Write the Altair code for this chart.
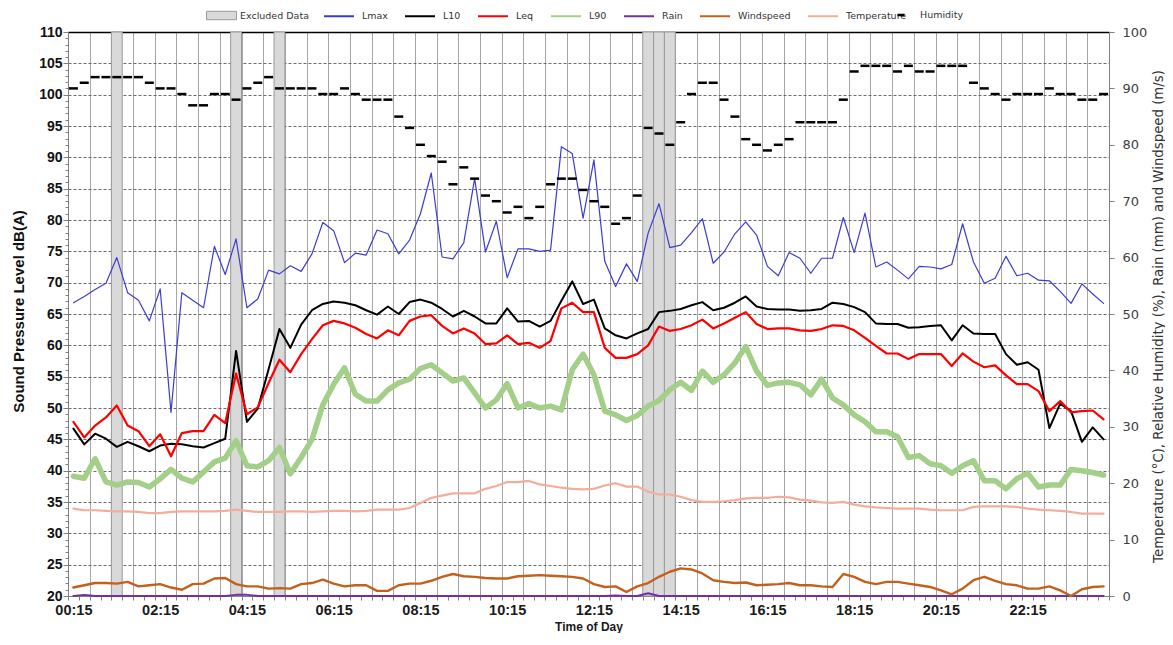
import json
import altair as alt
import pandas as pd

# ---------------- data ----------------
TIMES = [f"{((15 + 15 * i) // 60) % 24:02d}:{(15 + 15 * i) % 60:02d}" for i in range(96)]
TICK_LABELS = ["00:15", "02:15", "04:15", "06:15", "08:15", "10:15",
               "12:15", "14:15", "16:15", "18:15", "20:15", "22:15"]

LMAX = [66.8, 67.8, 68.9, 69.9, 74.0, 68.4, 67.2, 63.9, 69.0, 49.3,
        68.4, 67.2, 66.0, 75.8, 71.3, 77.0, 66.0, 67.4, 72.0, 71.4,
        72.7, 71.8, 74.6, 79.6, 78.3, 73.2, 74.7, 74.4, 78.4, 77.8,
        74.6, 76.8, 81.0, 87.5, 74.1, 73.8, 76.4, 86.6, 74.9, 79.8,
        70.8, 75.4, 75.4, 75.0, 75.2, 91.7, 90.6, 80.3, 89.6, 73.4,
        69.4, 73.0, 70.2, 77.9, 82.6, 75.6, 76.0, 78.0, 80.2, 73.1,
        74.9, 77.8, 79.7, 77.6, 72.6, 71.1, 74.8, 73.9, 71.5, 73.9,
        73.9, 80.4, 74.8, 81.1, 72.5, 73.3, 72.0, 70.6, 72.6, 72.5,
        72.2, 72.9, 79.4, 73.3, 69.9, 70.7, 74.2, 71.1, 71.5, 70.4,
        70.3, 68.6, 66.7, 69.8, 68.2, 66.7]

L10 = [46.7, 44.2, 45.9, 45.1, 43.8, 44.6, 43.9, 43.1, 44.0, 44.3,
       44.2, 43.9, 43.7, 44.4, 45.1, 59.1, 47.8, 49.9, 56.2, 62.6,
       59.6, 63.3, 65.6, 66.6, 67.0, 66.8, 66.4, 65.6, 64.9, 66.2,
       65.0, 66.9, 67.3, 66.8, 65.8, 64.6, 65.5, 64.6, 63.5, 63.5,
       65.9, 63.8, 63.9, 63.0, 63.9, 67.1, 70.2, 66.6, 67.3, 62.7,
       61.6, 61.1, 61.9, 62.6, 65.3, 65.5, 65.8, 66.4, 66.9, 65.6,
       66.0, 66.8, 67.8, 66.2, 65.8, 65.7, 65.7, 65.5, 65.6, 65.8,
       66.8, 66.6, 66.1, 65.3, 63.5, 63.4, 63.4, 62.8, 62.9, 63.1,
       63.2, 60.8, 63.2, 61.9, 61.8, 61.8, 58.6, 56.9, 57.3, 56.1,
       46.8, 50.7, 49.5, 44.6, 46.9, 45.0]

LEQ = [47.8, 45.3, 47.2, 48.5, 50.4, 47.2, 46.3, 43.9, 45.8, 42.3,
       46.0, 46.3, 46.3, 48.9, 47.6, 55.5, 49.0, 50.1, 54.0, 57.7,
       55.7, 58.6, 61.0, 63.2, 63.9, 63.5, 62.8, 61.8, 61.1, 62.4,
       61.6, 63.9, 64.6, 64.8, 63.1, 61.9, 62.7, 61.9, 60.2, 60.3,
       61.6, 60.2, 60.4, 59.6, 60.7, 65.9, 66.8, 65.3, 65.3, 59.6,
       58.0, 58.0, 58.6, 60.0, 63.0, 62.3, 62.6, 63.2, 64.1, 62.7,
       63.5, 64.4, 65.3, 63.4, 62.6, 62.7, 62.7, 62.4, 62.3, 62.6,
       63.2, 63.1, 62.4, 61.2, 59.9, 58.7, 58.7, 57.8, 58.6, 58.6,
       58.6, 56.7, 58.7, 57.4, 56.5, 56.8, 55.2, 53.8, 53.8, 52.7,
       49.5, 51.1, 49.3, 49.5, 49.6, 48.2]

L90 = [39.1, 38.8, 41.9, 38.2, 37.7, 38.2, 38.1, 37.4, 38.7, 40.2,
       38.8, 38.2, 39.8, 41.4, 42.0, 44.8, 40.8, 40.6, 41.6, 43.7,
       39.5, 42.1, 45.0, 50.5, 53.8, 56.4, 52.2, 51.1, 51.1, 52.9,
       54.0, 54.6, 56.3, 56.9, 55.6, 54.3, 54.8, 52.4, 50.0, 51.3,
       53.9, 50.0, 50.7, 50.0, 50.3, 49.7, 56.1, 58.6, 55.3, 49.5,
       48.9, 48.0, 48.8, 50.3, 51.2, 52.9, 54.1, 52.8, 55.9, 54.1,
       55.3, 57.2, 59.8, 55.9, 53.6, 54.0, 54.1, 53.7, 52.1, 54.6,
       51.6, 50.5, 48.9, 47.8, 46.2, 46.2, 45.4, 42.1, 42.4, 41.1,
       40.8, 39.6, 40.8, 41.6, 38.4, 38.4, 37.1, 38.7, 39.6, 37.4,
       37.7, 37.7, 40.2, 40.0, 39.7, 39.3]

RAIN = [0.0, 0.2, 0.0, 0.0, 0.0, 0.0, 0.0, 0.0, 0.0, 0.0,
        0.0, 0.0, 0.0, 0.0, 0.0, 0.2, 0.2, 0.0, 0.0, 0.0,
        0.0, 0.0, 0.0, 0.0, 0.0, 0.0, 0.0, 0.0, 0.0, 0.0,
        0.0, 0.0, 0.0, 0.0, 0.0, 0.0, 0.0, 0.0, 0.0, 0.0,
        0.0, 0.0, 0.0, 0.0, 0.0, 0.0, 0.0, 0.0, 0.0, 0.0,
        0.1, 0.0, 0.0, 0.5, 0.0, 0.0, 0.0, 0.0, 0.0, 0.0,
        0.0, 0.0, 0.0, 0.0, 0.0, 0.0, 0.0, 0.0, 0.0, 0.0,
        0.0, 0.0, 0.0, 0.0, 0.0, 0.0, 0.0, 0.0, 0.0, 0.0,
        0.0, 0.0, 0.0, 0.0, 0.0, 0.0, 0.0, 0.0, 0.0, 0.0,
        0.0, 0.0, 0.0, 0.0, 0.0, 0.0]

WINDSPEED = [1.5, 1.9, 2.3, 2.3, 2.2, 2.5, 1.7, 1.9, 2.1, 1.5,
             1.1, 2.1, 2.2, 3.1, 3.2, 2.1, 1.7, 1.7, 1.3, 1.4,
             1.3, 2.1, 2.3, 2.9, 2.2, 1.7, 1.9, 1.9, 0.9, 0.9,
             1.9, 2.2, 2.2, 2.7, 3.4, 3.9, 3.5, 3.4, 3.2, 3.1,
             3.1, 3.5, 3.6, 3.7, 3.6, 3.5, 3.4, 3.1, 2.1, 1.6,
             1.7, 0.7, 1.7, 2.3, 3.4, 4.3, 4.9, 4.7, 4.0, 2.8,
             2.5, 2.3, 2.4, 1.9, 2.0, 2.1, 2.3, 1.9, 1.9, 1.7,
             1.6, 3.9, 3.4, 2.5, 2.1, 2.5, 2.5, 2.2, 1.9, 1.6,
             1.0, 0.3, 1.3, 2.8, 3.4, 2.7, 2.1, 1.9, 1.3, 1.3,
             1.7, 1.0, 0.0, 1.2, 1.6, 1.7]

TEMPERATURE = [15.5, 15.2, 15.2, 15.1, 15.0, 15.0, 14.9, 14.7, 14.7, 14.9,
               15.0, 15.0, 15.0, 15.0, 15.1, 15.3, 15.1, 14.9, 14.9, 14.9,
               15.0, 15.0, 14.9, 15.0, 15.1, 15.1, 15.0, 15.1, 15.3, 15.3,
               15.3, 15.6, 16.5, 17.4, 17.8, 18.2, 18.2, 18.2, 19.0, 19.5,
               20.2, 20.2, 20.4, 19.8, 19.5, 19.2, 19.0, 18.9, 19.0, 19.6,
               20.0, 19.4, 19.4, 18.5, 18.0, 18.0, 17.6, 17.0, 16.7, 16.7,
               16.8, 17.0, 17.3, 17.4, 17.4, 17.6, 17.5, 17.1, 16.9, 16.6,
               16.5, 16.7, 16.2, 15.9, 15.7, 15.6, 15.5, 15.5, 15.5, 15.3,
               15.2, 15.2, 15.2, 15.8, 15.9, 15.9, 15.9, 15.8, 15.5, 15.3,
               15.2, 15.1, 14.9, 14.6, 14.6, 14.6]

HUMIDITY = [90, 91, 92, 92, 92, 92, 92, 91, 90, 90,
            89, 87, 87, 89, 89, 88, 90, 91, 92, 90,
            90, 90, 90, 89, 89, 90, 89, 88, 88, 88,
            85, 83, 80, 78, 77, 73, 76, 74, 71, 70,
            68, 69, 67, 69, 73, 74, 74, 72, 70, 69,
            66, 67, 71, 83, 82, 80, 84, 89, 91, 91,
            88, 85, 81, 80, 79, 80, 81, 84, 84, 84,
            84, 88, 93, 94, 94, 94, 93, 94, 93, 93,
            94, 94, 94, 91, 90, 89, 88, 89, 89, 89,
            90, 89, 89, 88, 88, 89]

EXCLUDED = [4, 15, 19, 53, 54, 55]

LINE_SERIES = ["Lmax", "L10", "Leq", "L90", "Rain", "Windspeed", "Temperature"]
LINE_COLORS = ["#3C3CD2", "#000000", "#FF0000", "#A3CF88", "#7030A0", "#C4601C", "#F2AE9A"]
LINE_WIDTHS = [1.2, 2.0, 2.2, 5.5, 2.0, 2.4, 2.2]
LEFT_SERIES = ["Lmax", "L10", "Leq", "L90"]

# ---------------- tables ----------------
left_rows, right_rows, hum_rows = [], [], []
for i in range(96):
    for name, arr in (("Lmax", LMAX), ("L10", L10), ("Leq", LEQ), ("L90", L90)):
        left_rows.append({"idx": i, "time": TIMES[i], "series": name, "value": arr[i]})
    for name, arr in (("Rain", RAIN), ("Windspeed", WINDSPEED), ("Temperature", TEMPERATURE)):
        right_rows.append({"idx": i, "time": TIMES[i], "series": name, "value": arr[i]})
    hum_rows.append({"idx": i, "time": TIMES[i], "marker": "Humidity", "value": HUMIDITY[i]})
left_df = pd.DataFrame(left_rows)
right_df = pd.DataFrame(right_rows)
hum_df = pd.DataFrame(hum_rows)
excl_df = pd.DataFrame({"start": [e - 0.5 for e in EXCLUDED],
                        "end": [e + 0.5 for e in EXCLUDED],
                        "label": ["Excluded Data"] * len(EXCLUDED)})

W, H = 1041, 564

# ---------------- encodings ----------------
x_axis = alt.Axis(
    values=[i - 0.5 for i in range(97)],
    labelExpr="((datum.value + 0.5) % 8 === 0 && datum.value < 95) ? "
              + json.dumps(TICK_LABELS) + "[(datum.value + 0.5) / 8] : ''",
    labelOffset=5.42, labelOverlap=False, labelFlush=False,
    labelFont="Liberation Sans", labelFontSize=14.5, labelFontWeight="bold",
    labelColor="#1a1a1a", labelPadding=3,
    grid=True, gridColor="#A6A6A6", gridWidth=1,
    gridOpacity={"condition": {"test": "(datum.value + 0.5) % 2 === 0", "value": 1}, "value": 0},
    tickSize=4, tickColor="#808080", domainColor="#808080",
    title="Time of Day", titleFont="Liberation Sans", titleFontSize=12,
    titleFontWeight="bold", titleColor="#1a1a1a",
    titleX=W / 2, titleY=34, titleBaseline="alphabetic", titleAlign="center",
)
x_scale = alt.Scale(domain=[-0.5, 95.5], nice=False, zero=False)
x_enc = alt.X("idx:Q", scale=x_scale, axis=x_axis)

y_left = alt.Y(
    "value:Q",
    scale=alt.Scale(domain=[20, 110], nice=False, zero=False),
    axis=alt.Axis(
        values=list(range(20, 111)),
        labelExpr="datum.value % 5 === 0 ? datum.label : ''",
        labelOverlap=False, labelFont="Liberation Sans", labelFontSize=14,
        labelFontWeight="bold", labelColor="#111111", labelPadding=1,
        tickSize={"condition": {"test": "datum.value % 5 === 0", "value": 5}, "value": 3},
        tickColor="#808080", domainColor="#808080",
        grid=True,
        gridOpacity={"condition": {"test": "datum.value % 5 === 0 && datum.value > 20", "value": 1},
                     "value": 0},
        gridDash={"condition": {"test": "datum.value === 110", "value": []}, "value": [3, 2]},
        gridColor={"condition": {"test": "datum.value === 110", "value": "#000000"}, "value": "#5a5a5a"},
        gridWidth={"condition": {"test": "datum.value === 110", "value": 1.6}, "value": 0.9},
        title="Sound Pressure Level dB(A)", titleFont="Liberation Sans", titleFontSize=15,
        titleFontWeight="bold", titleColor="#111111",
        titleX=-50, titleY=H / 2 - 3, titleAngle=270, titleAlign="center", titleBaseline="middle",
    ),
)

y_right = alt.Y(
    "value:Q",
    scale=alt.Scale(domain=[0, 100], nice=False, zero=False),
    axis=alt.Axis(
        orient="right", values=list(range(0, 101, 10)), grid=False,
        labelFont="DejaVu Sans", labelFontSize=13, labelColor="#404040", labelPadding=8,
        tickSize=5, tickColor="#808080", domainColor="#808080",
        title="Temperature (°C), Relative Humidity (%), Rain (mm) and Windspeed (m/s)",
        titleFont="DejaVu Sans", titleFontSize=13.3, titleFontWeight="normal", titleColor="#333333",
        titleX=49, titleY=H / 2 + 2, titleAngle=270, titleAlign="center", titleBaseline="middle",
    ),
)

legend_common = dict(orient="none", title=None, direction="horizontal",
                     labelFont="DejaVu Sans", labelFontSize=9.5, labelColor="#333333")

stroke_enc = alt.Stroke(
    "series:N",
    scale=alt.Scale(domain=LINE_SERIES, range=LINE_COLORS),
    legend=alt.Legend(symbolType="stroke", symbolSize=900, symbolStrokeWidth=2,
                      columns=7, columnPadding=13, labelOffset=7,
                      legendX=255, legendY=-32, **legend_common),
)

# ---------------- layers ----------------
bars = alt.Chart(excl_df).mark_rect(stroke="#9a9a9a", strokeWidth=1).encode(
    x=alt.X("start:Q", scale=x_scale, axis=x_axis),
    x2="end:Q",
    fill=alt.Fill("label:N", scale=alt.Scale(domain=["Excluded Data"], range=["#D9D9D9"]),
                  legend=alt.Legend(symbolType="M-1,-0.28H1V0.28H-1Z", symbolSize=900,
                                    symbolStrokeColor="#9a9a9a", symbolStrokeWidth=1,
                                    labelOffset=3, legendX=138, legendY=-32, **legend_common)),
)


def series_layer(df, name, width, y_enc):
    return alt.Chart(df).transform_filter(
        alt.datum.series == name
    ).mark_line(strokeJoin="round", strokeCap="round", strokeWidth=width).encode(
        x=x_enc, y=y_enc, stroke=stroke_enc,
    )


left_layers = [bars]
right_layers = []
for name, width in zip(LINE_SERIES, LINE_WIDTHS):
    if name in LEFT_SERIES:
        left_layers.append(series_layer(left_df, name, width, y_left))
    else:
        right_layers.append(series_layer(right_df, name, width, y_right))

humidity = alt.Chart(hum_df).mark_point(filled=False, stroke="black", strokeWidth=2.5,
                                        size=81, opacity=1).encode(
    x=x_enc, y=y_right,
    shape=alt.Shape("marker:N", scale=alt.Scale(domain=["Humidity"], range=["M-1,0H1"]),
                    legend=alt.Legend(symbolSize=49, symbolStrokeColor="black",
                                      symbolStrokeWidth=2.5, labelOffset=14,
                                      legendX=828, legendY=-22, **legend_common)),
)
right_layers.append(humidity)

left = alt.layer(*left_layers)
right = alt.layer(*right_layers)

chart = alt.layer(left, right).resolve_scale(y="independent").properties(
    width=W, height=H,
    autosize=alt.AutoSizeParams(type="none"),
    padding={"left": 60, "top": 24, "right": 56, "bottom": 37},
    background="white",
).configure_view(strokeWidth=0)

chart.save("out.html", embed_options={"renderer": "svg", "actions": False})
